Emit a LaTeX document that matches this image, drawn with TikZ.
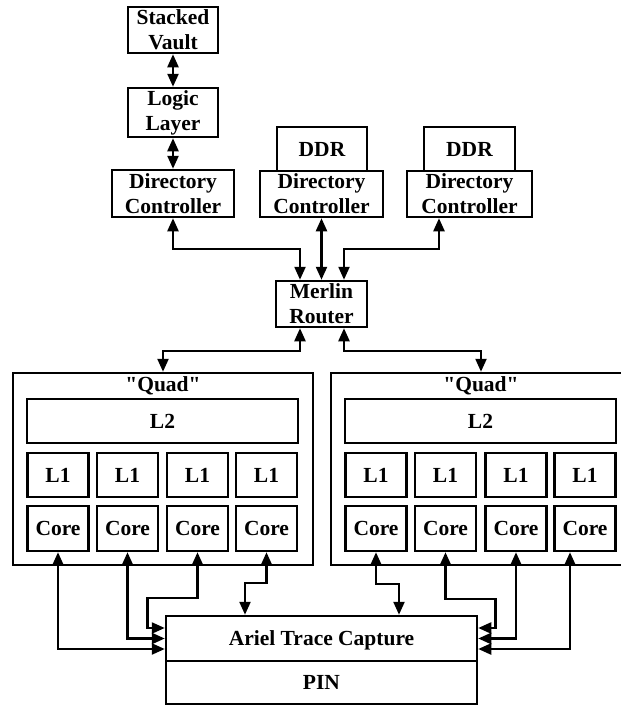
\documentclass[tikz,border=0pt]{standalone}
\usepackage{fontspec}
\setmainfont{Liberation Serif}[Ligatures=TeXOff]
\usetikzlibrary{arrows.meta}
\begin{document}
\begin{tikzpicture}[x=1pt,y=-1pt,
  every node/.style={font=\fontsize{21.5}{25}\selectfont\bfseries},
  box/.style={draw, line width=2.5pt, inner sep=0pt, align=center},
  one/.style={box, text height=14pt, text depth=0pt},
  arr/.style={line width=2.3pt, {Triangle[length=13pt,width=11pt]}-{Triangle[length=13pt,width=11pt]}},
]
\useasboundingbox (0,0) rectangle (621,705);

% memory side
\node[box, minimum width=90pt, minimum height=46pt] (sv) at (173,30) {Stacked\\Vault};
\node[box, minimum width=90pt, minimum height=49pt] (ll) at (173,112.5) {Logic\\Layer};
\node[box, minimum width=122pt, minimum height=47pt] (dc1) at (173,193.5) {Directory\\Controller};
\node[one, minimum width=90pt, minimum height=44pt] (ddr2) at (322,149) {DDR};
\node[box, minimum width=123pt, minimum height=46pt, fill=white] (dc2) at (321.5,194) {Directory\\Controller};
\node[one, minimum width=91pt, minimum height=44pt] (ddr3) at (469.5,149) {DDR};
\node[box, minimum width=125pt, minimum height=46pt, fill=white] (dc3) at (469.5,194) {Directory\\Controller};
\node[box, minimum width=91pt, minimum height=46pt] (mr) at (321.5,304) {Merlin\\Router};

% quads
\node[box, minimum width=300pt, minimum height=192pt] (q1) at (163,469) {};
\node[box, minimum width=300pt, minimum height=192pt] (q2) at (481,469) {};
\node[anchor=base] (ql1) at (163,391) {"Quad"};
\node[anchor=base] (ql2) at (481,391) {"Quad"};
\node[one, minimum width=271pt, minimum height=44pt] (l2a) at (162.5,421) {L2};
\node[one, minimum width=271pt, minimum height=44pt] (l2b) at (480.5,421) {L2};
\foreach \i/\x in {1/58,2/127.5,3/197.5,4/266.5}{
  \node[one, minimum width=61pt, minimum height=44pt] (la\i) at (\x,475) {L1};
  \node[one, minimum width=61pt, minimum height=45pt] (ca\i) at (\x,528.5) {Core};
}
\foreach \i/\x in {1/376,2/445.5,3/516,4/585}{
  \node[one, minimum width=61pt, minimum height=44pt] (lb\i) at (\x,475) {L1};
  \node[one, minimum width=61pt, minimum height=45pt] (cb\i) at (\x,528.5) {Core};
}

% trace capture
\node[one, minimum width=311pt, minimum height=45pt] (ariel) at (321.5,638.5) {Ariel Trace Capture};
\node[one, minimum width=311pt, minimum height=43pt] (pin) at (321.5,682.5) {PIN};

% connectors top
\draw[arr] (sv) -- (ll);
\draw[arr] (ll) -- (dc1);
\draw[arr] (dc1.south) -- ++(0,31) -| ([xshift=-21.5pt]mr.north);
\draw[arr] (dc2.south) -- (mr.north);
\draw[arr] ([xshift=-30.5pt]dc3.south) -- ++(0,31) -| ([xshift=22.5pt]mr.north);
\draw[arr] ([xshift=-21.5pt]mr.south) -- ++(0,23) -| (q1.north);
\draw[arr] ([xshift=22.5pt]mr.south) -- ++(0,23) -| (q2.north);

% connectors bottom left
\draw[arr] (ca1.south) |- ([yshift=-10.5pt]ariel.west);
\draw[arr] (ca2.south) |- (ariel.west);
\draw[arr] (ca3.south) -- ++(0,46) -- ++(-50,0) |- ([yshift=10.5pt]ariel.west);
\draw[arr] (ca4.south) -- ++(0,31) -| ([xshift=-76.5pt]ariel.north);
% connectors bottom right
\draw[arr] (cb1.south) -- ++(0,32) -| ([xshift=77.5pt]ariel.north);
\draw[arr] (cb2.south) -- ++(0,47) -- ++(50,0) |- ([yshift=10.5pt]ariel.east);
\draw[arr] (cb3.south) |- (ariel.east);
\draw[arr] ([xshift=-15pt]cb4.south) |- ([yshift=-10.5pt]ariel.east);
\end{tikzpicture}
\end{document}
